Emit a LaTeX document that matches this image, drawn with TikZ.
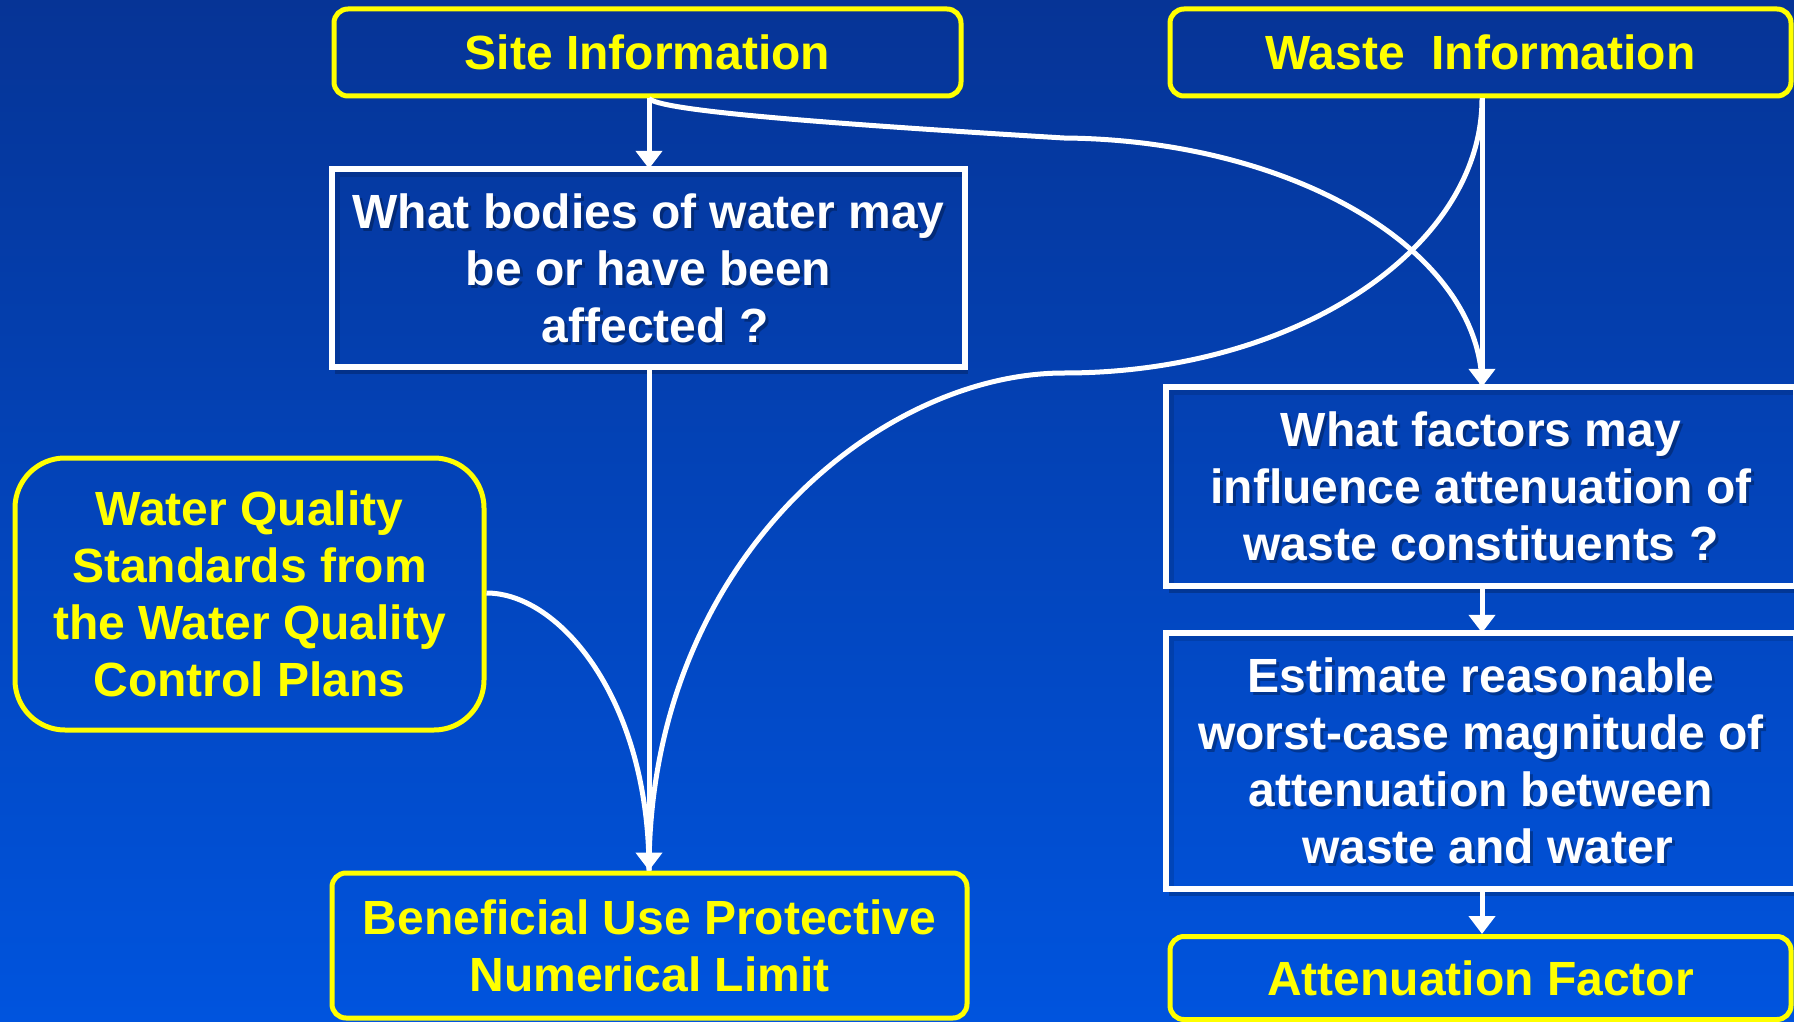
\documentclass[tikz,border=0pt]{standalone}
\usepackage{fontspec}
\setmainfont{Liberation Sans}
\usetikzlibrary{arrows.meta,calc}

\definecolor{bgtop}{RGB}{6,52,150}
\definecolor{bgmid}{RGB}{0,66,184}
\definecolor{bgbot}{RGB}{0,84,222}
\definecolor{hiyellow}{RGB}{255,255,0}

\tikzset{
  every node/.style={font=\fontsize{48}{57}\selectfont\bfseries, align=center, inner sep=0pt},
  backdrop/.style={top color=bgtop, middle color=bgmid, bottom color=bgbot},
  infobox/.style={draw=hiyellow, line width=5pt, rounded corners=14pt, text=hiyellow},
  askframe/.style={draw=white, line width=5.5pt},
  boxshade/.style={fill=black, opacity=0.22},
  innershade/.style={draw=black, opacity=0.12, line width=8pt},
  txtshade/.style={text=black, opacity=0.28},
  flow/.style={draw=white, line width=5pt, -{Triangle[length=18pt,width=26pt]}},
  flowline/.style={draw=white, line width=5pt}
}

% question box: outer shadow, backdrop-coloured face, white frame, shadowed lettering
\newcommand\askbox[5]{%
  \path node[minimum width=#3, minimum height=#4] (#1) at (#2) {};
  \fill[boxshade] ($(#1.south west)+(3,7)$) rectangle ($(#1.north east)+(3,7)$);
  \begin{scope}
    \clip (#1.south west) rectangle (#1.north east);
    \shade[backdrop] (0,0) rectangle (1794,1022);
    \draw[innershade] ($(#1.south west)+(4,0)$) -- ($(#1.north west)+(4,4)$) -- ($(#1.north east)+(0,4)$);
  \end{scope}
  \draw[askframe] (#1.south west) rectangle (#1.north east);
  \node[txtshade] at ($(#2)+(3,3)$) {#5};
  \node[text=white] at (#2) {#5};
}

\begin{document}
\begin{tikzpicture}[x=1pt, y=-1pt]
  % background
  \shade[backdrop] (0,0) rectangle (1794,1022);
  \useasboundingbox (0,0) rectangle (1794,1022);

  % information sources
  \node[infobox, minimum width=627pt, minimum height=87pt] (site) at (647.5,52.5) {Site Information};
  \node[infobox, minimum width=621pt, minimum height=87pt] (waste) at (1480.5,52.5) {Waste\ \ Information};
  \node[infobox, rounded corners=50pt, minimum width=469pt, minimum height=272pt] (wqs) at (249.5,594)
    {Water Quality\\Standards from\\the Water Quality\\Control Plans};

  % questions and estimates
  \askbox{bodies}{648.5,268}{633pt}{198pt}{What bodies of water may\\be or have been\\\ affected ?}
  \askbox{factors}{1481,486.5}{630pt}{199pt}{What factors may\\influence attenuation of\\waste constituents ?}
  \askbox{estimate}{1481,761}{630pt}{256pt}{Estimate reasonable\\worst-case magnitude of\\attenuation between\\\ waste and water}

  % results
  \node[infobox, minimum width=635pt, minimum height=145pt] (benefit) at (649.5,945.5)
    {Beneficial Use Protective\\Numerical Limit};
  \node[infobox, minimum width=621pt, minimum height=83pt] (af) at (1480.5,978)
    {Attenuation Factor};

  % connectors
  \draw[flow] (site.south -| 649,0) -- (bodies.north -| 649,0);
  \draw[flow] (bodies.south -| 649,0) -- (benefit.north -| 649,0);
  \draw[flow] (waste.south -| 1482,0) -- (factors.north -| 1482,0);
  \draw[flow] (factors.south -| 1482,0) -- (estimate.north -| 1482,0);
  \draw[flow] (estimate.south -| 1482,0) -- (af.north -| 1482,0);

  \draw[flowline] (site.south -| 649,0) .. controls (660,110) and (800,122) .. (1064,138)
    .. controls (1295,140) and (1482,252) .. (factors.north -| 1482,0);
  \draw[flowline] (waste.south -| 1482,0) .. controls (1482,249) and (1295,373) .. (1064,373)
    .. controls (880,373) and (649,560) .. (benefit.north -| 649,0);
  \draw[flowline] (wqs.east |- 0,593) .. controls (560,593) and (649,700) .. (benefit.north -| 649,0);
\end{tikzpicture}
\end{document}
